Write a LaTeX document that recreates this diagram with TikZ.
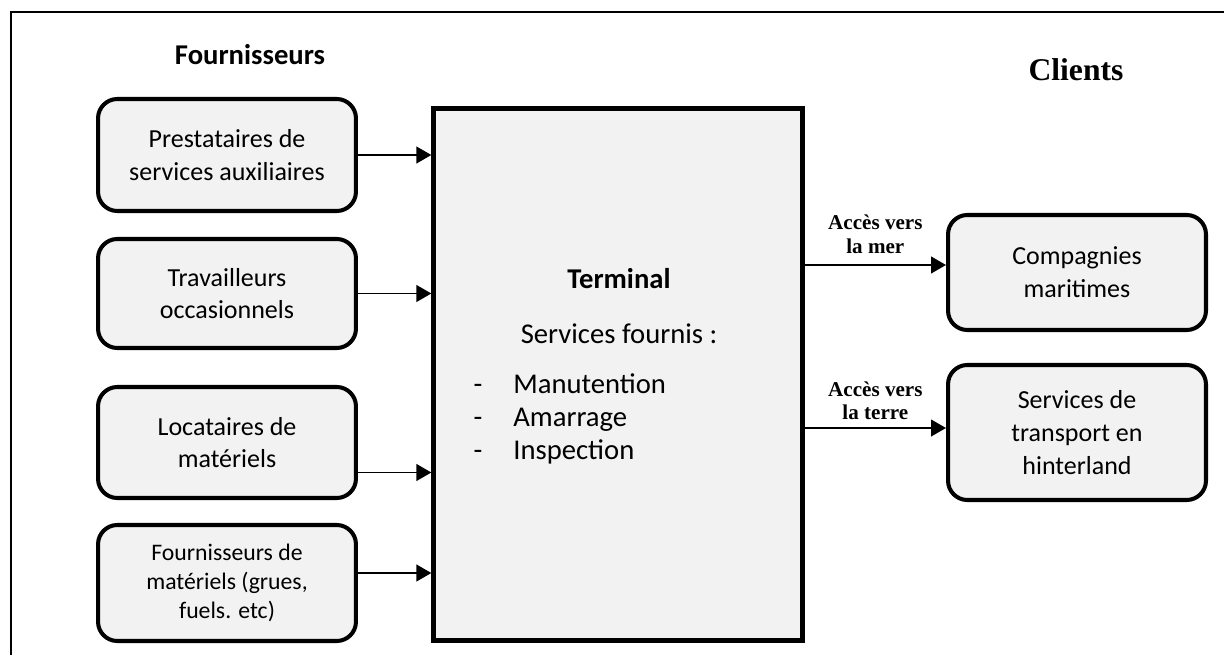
\documentclass[tikz,border=0pt]{standalone}
\usepackage{fontspec}
\setmainfont{Carlito}
\newfontfamily\timesfont{Liberation Serif}
\usetikzlibrary{arrows.meta}
\definecolor{boxgray}{HTML}{F2F2F2}

\tikzset{
  partbox/.style={draw, line width=2.3pt, rounded corners=11pt, fill=boxgray,
    align=center, minimum width=5.16cm, inner sep=2pt,
    font=\fontsize{14.8}{18.7}\selectfont},
  termbox/.style={draw, line width=2.5pt, fill=boxgray,
    minimum width=7.38cm, minimum height=10.64cm},
  termtext/.style={inner sep=0pt, font=\fontsize{16.3}{19}\selectfont},
  flow/.style={-{Triangle[length=8.5pt,width=9.5pt]}, line width=1.1pt},
  acces/.style={inner sep=0pt, align=center,
    font=\timesfont\bfseries\fontsize{12}{13.5}\selectfont},
}

\begin{document}
\begin{tikzpicture}[x=0.02cm, y=-0.02cm]
    \useasboundingbox (0,0) rectangle (1224,655);
    \draw[line width=0.8pt] (11,655) -- (11,12) -- (1224,12);

    % titles
    \node[font=\bfseries\fontsize{16.3}{19}\selectfont] (fourn) at (250,55) {Fournisseurs};
    \node[font=\timesfont\bfseries\fontsize{18}{20}\selectfont] (clients) at (1076,70) {Clients};

    % suppliers
    \foreach \nm/\y/\h/\txt in {pres/155/112/{Prestataires de\\services auxiliaires},
                                trav/293.5/109/{Travailleurs\\occasionnels},
                                loca/442.5/111/{Locataires de\\matériels}}
      \node[partbox, minimum height=\h*0.02cm] (\nm) at (227,\y) {\txt};
    \node[partbox, minimum height=116*0.02cm, font=\fontsize{13.5}{16.7}\selectfont]
      (four) at (227,583) {Fournisseurs de\\matériels (grues,\\fuels. etc)};

    % terminal
    \node[termbox] (term) at (618,374.5) {};
    \node[termtext, anchor=base, font=\bfseries\fontsize{16.3}{19}\selectfont] (termtitle) at (619,289) {Terminal};
    \node[termtext, anchor=base] (servtitle) at (619,343) {Services fournis :};
    \foreach \nm/\y/\txt in {manu/393/Manutention, amar/426/Amarrage, insp/459/Inspection} {
      \node[termtext, anchor=base] (\nm-dash) at (478,\y) {-};
      \node[termtext, anchor=base west] (\nm) at (513,\y) {\txt};
    }

    % clients
    \node[partbox, minimum height=115*0.02cm] (cmar) at (1077,272.5) {Compagnies\\maritimes};
    \node[partbox, minimum height=135*0.02cm] (hint) at (1077,432.5) {Services de\\transport en\\hinterland};

    % flows
    \path ([yshift=-0.6cm]loca.east) coordinate (loca-out)
          ([yshift=0.2cm]four.east) coordinate (four-out)
          ([yshift=0.15cm]cmar.west) coordinate (cmar-in)
          ([yshift=0.09cm]hint.west) coordinate (hint-in);
    \foreach \src in {pres.east, trav.east, loca-out, four-out}
      \draw[flow] (\src) -- (\src -| term.west);
    \draw[flow] (cmar-in -| term.east) -- node[acces, above=6pt] {Accès vers\\la mer} (cmar-in);
    \draw[flow] (hint-in -| term.east) -- node[acces, above=4pt] {Accès vers\\la terre} (hint-in);
  \end{tikzpicture}
\end{document}
